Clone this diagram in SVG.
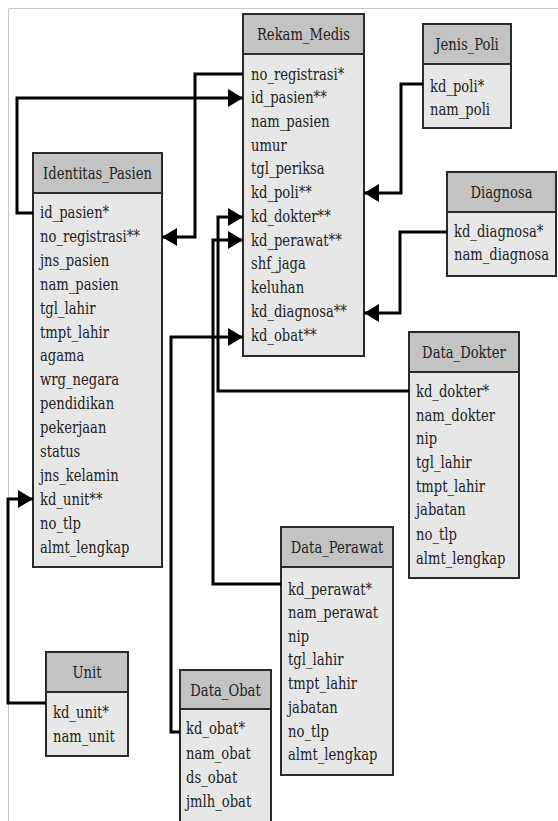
<svg xmlns="http://www.w3.org/2000/svg" width="558" height="821" viewBox="0 0 558 821">
<style>
.hd{fill:#c3c3c3;stroke:#2a2a2a;stroke-width:2}
.bd{fill:#e7e7e7;stroke:#2a2a2a;stroke-width:2}
text{font-family:'DejaVu Serif Condensed','DejaVu Serif',serif;font-stretch:condensed;font-size:17px;fill:#222}
.ht{text-anchor:middle}
.c{fill:none;stroke:#000;stroke-width:3;stroke-linejoin:miter}
.frame{stroke:#c8c8c8;stroke-width:1;fill:none}
</style>
<defs>
<marker id="arr" markerUnits="userSpaceOnUse" markerWidth="16" markerHeight="20" refX="15" refY="9" orient="auto">
<path d="M0,0 L15,9 L0,18 z" fill="#000"/>
</marker>
</defs>
<rect width="558" height="821" fill="#fff"/>
<path class="frame" d="M8.5,821 V8.5 H558"/>

<g id="Rekam_Medis">
<rect class="bd" x="243" y="14" width="121" height="342"/>
<rect class="hd" x="243" y="14" width="121" height="40"/>
<text class="ht" transform="translate(303.5,40) scale(0.86,1)">Rekam_Medis</text>
<g transform="translate(251,0) scale(0.86,1)">
<text y="80">no_registrasi*</text>
<text y="103">id_pasien**</text>
<text y="127">nam_pasien</text>
<text y="151">umur</text>
<text y="174">tgl_periksa</text>
<text y="198">kd_poli**</text>
<text y="222">kd_dokter**</text>
<text y="246">kd_perawat**</text>
<text y="269">shf_jaga</text>
<text y="293">keluhan</text>
<text y="317">kd_diagnosa**</text>
<text y="341">kd_obat**</text>
</g>
</g>

<g id="Identitas_Pasien">
<rect class="bd" x="33" y="153" width="129" height="414"/>
<rect class="hd" x="33" y="153" width="129" height="40"/>
<text class="ht" transform="translate(97.5,179) scale(0.86,1)">Identitas_Pasien</text>
<g transform="translate(40,0) scale(0.86,1)">
<text y="218">id_pasien*</text>
<text y="242">no_registrasi**</text>
<text y="266">jns_pasien</text>
<text y="290">nam_pasien</text>
<text y="314">tgl_lahir</text>
<text y="338">tmpt_lahir</text>
<text y="361">agama</text>
<text y="385">wrg_negara</text>
<text y="409">pendidikan</text>
<text y="433">pekerjaan</text>
<text y="457">status</text>
<text y="481">jns_kelamin</text>
<text y="505">kd_unit**</text>
<text y="529">no_tlp</text>
<text y="553">almt_lengkap</text>
</g>
</g>

<g id="Jenis_Poli">
<rect class="bd" x="423" y="24" width="88" height="104"/>
<rect class="hd" x="423" y="24" width="88" height="40"/>
<text class="ht" transform="translate(467,50) scale(0.86,1)">Jenis_Poli</text>
<g transform="translate(430,0) scale(0.86,1)">
<text y="92">kd_poli*</text>
<text y="115">nam_poli</text>
</g>
</g>

<g id="Diagnosa">
<rect class="bd" x="447" y="172" width="109" height="104"/>
<rect class="hd" x="447" y="172" width="109" height="40"/>
<text class="ht" transform="translate(501.5,198) scale(0.86,1)">Diagnosa</text>
<g transform="translate(454,0) scale(0.86,1)">
<text y="237">kd_diagnosa*</text>
<text y="260">nam_diagnosa</text>
</g>
</g>

<g id="Data_Dokter">
<rect class="bd" x="409" y="332" width="110" height="246"/>
<rect class="hd" x="409" y="332" width="110" height="40"/>
<text class="ht" transform="translate(464,358) scale(0.86,1)">Data_Dokter</text>
<g transform="translate(416,0) scale(0.86,1)">
<text y="397">kd_dokter*</text>
<text y="421">nam_dokter</text>
<text y="444">nip</text>
<text y="468">tgl_lahir</text>
<text y="492">tmpt_lahir</text>
<text y="515">jabatan</text>
<text y="540">no_tlp</text>
<text y="564">almt_lengkap</text>
</g>
</g>

<g id="Data_Perawat">
<rect class="bd" x="281" y="527" width="112" height="248"/>
<rect class="hd" x="281" y="527" width="112" height="40"/>
<text class="ht" transform="translate(337,553) scale(0.86,1)">Data_Perawat</text>
<g transform="translate(288,0) scale(0.86,1)">
<text y="595">kd_perawat*</text>
<text y="618">nam_perawat</text>
<text y="642">nip</text>
<text y="665">tgl_lahir</text>
<text y="689">tmpt_lahir</text>
<text y="713">jabatan</text>
<text y="737">no_tlp</text>
<text y="760">almt_lengkap</text>
</g>
</g>

<g id="Data_Obat">
<rect class="bd" x="180" y="670" width="91" height="170"/>
<rect class="hd" x="180" y="670" width="91" height="39"/>
<text class="ht" transform="translate(225.5,696) scale(0.86,1)">Data_Obat</text>
<g transform="translate(186,0) scale(0.86,1)">
<text y="734">kd_obat*</text>
<text y="759">nam_obat</text>
<text y="783">ds_obat</text>
<text y="807">jmlh_obat</text>
</g>
</g>

<g id="Unit">
<rect class="bd" x="46" y="652" width="82" height="104"/>
<rect class="hd" x="46" y="652" width="82" height="40"/>
<text class="ht" transform="translate(87,678) scale(0.86,1)">Unit</text>
<g transform="translate(53,0) scale(0.86,1)">
<text y="718">kd_unit*</text>
<text y="742">nam_unit</text>
</g>
</g>

<g id="connectors">
<polyline class="c" points="243,74 195,74 195,237 162,237" marker-end="url(#arr)"/>
<polyline class="c" points="33,213 17,213 17,98 243,98" marker-end="url(#arr)"/>
<polyline class="c" points="423,84 401,84 401,193 364,193" marker-end="url(#arr)"/>
<polyline class="c" points="447,232 400,232 400,313 364,313" marker-end="url(#arr)"/>
<polyline class="c" points="409,391 218,391 218,217 243,217" marker-end="url(#arr)"/>
<polyline class="c" points="281,584 213,584 213,240 243,240" marker-end="url(#arr)"/>
<polyline class="c" points="180,732 171,732 171,337 243,337" marker-end="url(#arr)"/>
<polyline class="c" points="46,703 8,703 8,499 33,499" marker-end="url(#arr)"/>
</g>
</svg>
